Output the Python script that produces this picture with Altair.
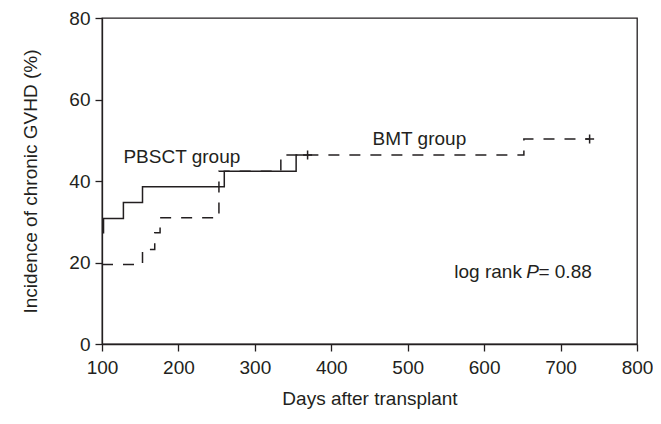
import altair as alt
import pandas as pd

# ---- data ----
pbsct_days = [100, 102, 128, 153, 260, 354, 369]
pbsct_pct = [27.3, 30.8, 34.7, 38.6, 42.4, 46.4, 46.4]

bmt_days = [100, 153, 169, 176, 253, 334, 652, 738]
bmt_pct = [19.5, 23.2, 27.3, 31.0, 42.4, 46.4, 50.3, 50.3]

censor_days = [369, 738]
censor_pct = [46.4, 50.3]

x_ticks = [100, 200, 300, 400, 500, 600, 700, 800]
y_ticks = [0, 20, 40, 60, 80]

label_texts = ["PBSCT group", "BMT group", "log rank ", "= 0.88"]
label_days = [128, 454, 561, 671]
label_pct = [44.3, 48.8, 16.2, 16.2]
italic_texts = ["P"]
italic_days = [655]
italic_pct = [16.2]

INK = "#231f20"
FONT = "Liberation Sans"

df_p = pd.DataFrame({"day": pbsct_days, "pct": pbsct_pct})
df_b = pd.DataFrame({"day": bmt_days, "pct": bmt_pct})
df_c = pd.DataFrame({"day": censor_days, "pct": censor_pct})
df_t = pd.DataFrame({"day": label_days, "pct": label_pct, "txt": label_texts})
df_i = pd.DataFrame({"day": italic_days, "pct": italic_pct, "txt": italic_texts})

x_enc = alt.X(
    "day:Q",
    scale=alt.Scale(domain=[100, 800], nice=False, zero=False),
    axis=alt.Axis(values=x_ticks, title="Days after transplant", labelPadding=7,
                  titlePadding=12, labelFlush=False),
)
y_enc = alt.Y(
    "pct:Q",
    scale=alt.Scale(domain=[0, 80], nice=False, zero=True),
    axis=alt.Axis(values=y_ticks, title="Incidence of chronic GVHD (%)",
                  labelPadding=5, titlePadding=28),
)

bmt = alt.Chart(df_b).mark_line(
    interpolate="step-after", strokeDash=[11, 10], color=INK, strokeWidth=1.5
).encode(x=x_enc, y=y_enc)

pbsct = alt.Chart(df_p).mark_line(
    interpolate="step-after", color=INK, strokeWidth=1.5
).encode(x=x_enc, y=y_enc)

censor = alt.Chart(df_c).mark_point(
    shape="M-1,0L1,0M0,-1L0,1", size=81, filled=False, strokeWidth=1.5,
    color=INK, opacity=1
).encode(x=x_enc, y=y_enc)

labels = alt.Chart(df_t).mark_text(
    align="left", baseline="alphabetic", font=FONT, fontSize=19, color=INK
).encode(x=x_enc, y=y_enc, text="txt:N")

italic = alt.Chart(df_i).mark_text(
    align="left", baseline="alphabetic", font=FONT, fontSize=19, color=INK,
    fontStyle="italic"
).encode(x=x_enc, y=y_enc, text="txt:N")

chart = alt.layer(bmt, pbsct, censor, labels, italic).properties(
    width=535, height=326,
    background="white",
    autosize=alt.AutoSizeParams(type="none"),
    padding={"left": 94, "top": 10, "right": 16, "bottom": 72},
).configure_view(
    stroke=INK, strokeWidth=1.3
).configure_axis(
    grid=False, domainColor=INK, domainWidth=1.3, tickColor=INK, tickWidth=1.3,
    tickSize=7, labelFont=FONT, labelFontSize=19, labelColor=INK,
    titleFont=FONT, titleFontSize=19, titleFontWeight="normal", titleColor=INK,
)

chart.save("out.html", embed_options={"renderer": "svg", "actions": False})
